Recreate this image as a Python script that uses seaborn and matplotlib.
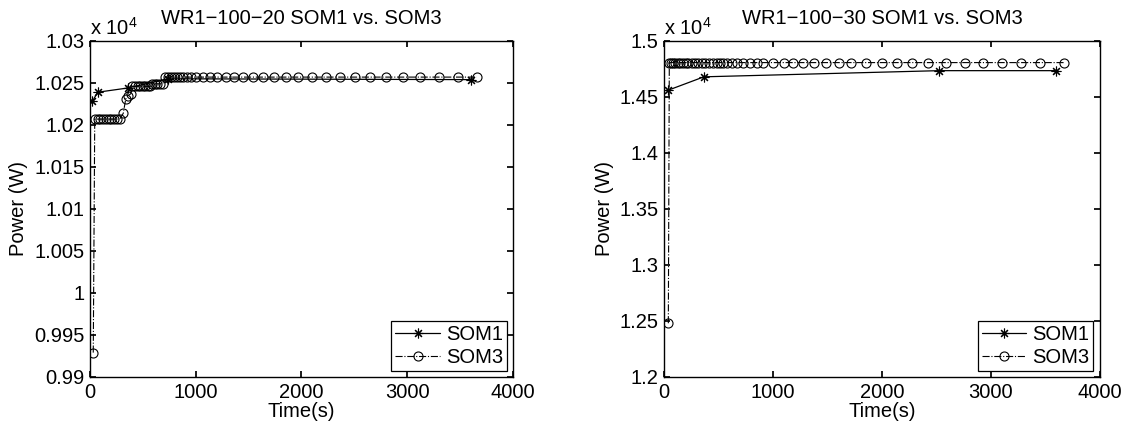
import numpy as np
import pandas as pd
import matplotlib
matplotlib.use("Agg")
import matplotlib.pyplot as plt
from matplotlib.ticker import FuncFormatter
import seaborn as sns

# --- Data (power in W, time in s) ---
som1_t_20 = [22, 73, 356, 741, 3603]
som1_p_20 = [10228, 10239, 10244, 10255, 10254]

som3_t_20 = [31, 45, 72, 98, 124, 150, 176, 202, 228, 254, 282, 315, 338, 358, 385,
             402, 426, 450, 474, 498, 522, 546, 568, 590, 614, 638, 662, 688,
             712, 736, 762, 790, 820, 850, 876, 914, 952, 1002, 1066, 1135, 1204,
             1283, 1365, 1450, 1544, 1639, 1743, 1853, 1970, 2096, 2229, 2364,
             2506, 2648, 2799, 2963, 3121, 3300, 3477, 3657]
som3_p_20 = [9929, 10207, 10207, 10207, 10207, 10207, 10207, 10207, 10207, 10207, 10207,
             10214, 10231, 10235, 10237,
             10246, 10246, 10246, 10246, 10246, 10246, 10246, 10246,
             10249, 10249, 10249, 10249, 10249,
             10257, 10257, 10257, 10257, 10257, 10257, 10257, 10257, 10257, 10257,
             10257, 10257, 10257, 10257, 10257, 10257, 10257, 10257, 10257, 10257,
             10257, 10257, 10257, 10257, 10257, 10257, 10257, 10257, 10257, 10257,
             10257, 10257]

som1_t_30 = [37, 364, 2525, 3600]
som1_p_30 = [14561, 14680, 14735, 14735]

som3_t_30 = [37, 46, 62, 80, 100, 122, 145, 170, 195, 222, 250, 280, 310, 342, 375,
             410, 445, 480, 510, 540, 573, 620, 671, 727, 789, 850, 910, 1002, 1100,
             1186, 1278, 1375, 1483, 1605, 1712, 1850, 1998, 2136, 2273, 2426, 2589,
             2764, 2932, 3101, 3278, 3453, 3674]
som3_p_30 = [12480] + [14807] * 46

yticks_20 = [0.99, 0.995, 1.0, 1.005, 1.01, 1.015, 1.02, 1.025, 1.03]
yticks_30 = [1.2, 1.25, 1.3, 1.35, 1.4, 1.45, 1.5]
xticks = [0, 1000, 2000, 3000, 4000]
SCALE = 1e4
FS = 14.5
ASTERISK = (8, 2, 0)

# --- Style (MATLAB-ish) ---
sns.set_theme(style="ticks")
plt.rcParams.update({
    "font.family": ["Liberation Sans", "DejaVu Sans"],
    "mathtext.fontset": "custom",
    "mathtext.rm": "Liberation Sans",
    "mathtext.it": "Liberation Sans",
    "font.size": FS,
    "axes.edgecolor": "black",
    "axes.linewidth": 1.0,
    "xtick.direction": "in",
    "ytick.direction": "in",
    "xtick.top": True,
    "ytick.right": True,
    "xtick.major.size": 4,
    "ytick.major.size": 4,
    "xtick.color": "black",
    "ytick.color": "black",
    "text.color": "black",
    "axes.labelcolor": "black",
})

fig = plt.figure(figsize=(11.29, 4.30), dpi=100)
ax_l = fig.add_axes([0.0797, 0.1233, 0.3747, 0.7814])
ax_r = fig.add_axes([0.5884, 0.1233, 0.3855, 0.7814])


def draw(ax, t1, p1, t3, p3, yticks, title):
    d1 = pd.DataFrame({"t": t1, "p": np.array(p1) / SCALE})
    d3 = pd.DataFrame({"t": t3, "p": np.array(p3) / SCALE})
    sns.lineplot(data=d1, x="t", y="p", ax=ax, color="black", linewidth=0.9,
                 marker=ASTERISK, markersize=7, markeredgecolor="black",
                 markeredgewidth=0.8, label="SOM1", estimator=None, sort=False)
    sns.lineplot(data=d3, x="t", y="p", ax=ax, color="black", linewidth=0.8,
                 linestyle="-.", marker="o", markersize=6.5,
                 markerfacecolor="none", markeredgecolor="black",
                 markeredgewidth=0.8, label="SOM3", estimator=None, sort=False)
    ax.set_xlim(0, 4000)
    ax.set_ylim(yticks[0], yticks[-1])
    ax.set_xticks(xticks)
    ax.set_yticks(yticks)
    ax.yaxis.set_major_formatter(FuncFormatter(lambda v, _: f"{v:g}"))
    ax.tick_params(labelsize=FS, pad=4)
    ax.set_xlabel("Time(s)", fontsize=FS, labelpad=0)
    ax.set_ylabel("Power (W)", fontsize=FS, labelpad=4)
    ax.set_title(title, fontsize=FS, pad=12)
    ax.text(0, 1.006, r"x 10$^{4}$", transform=ax.transAxes,
            ha="left", va="bottom", fontsize=FS)
    leg = ax.legend(loc="lower right", fontsize=FS, frameon=True, fancybox=False,
                    edgecolor="black", framealpha=1, borderaxespad=0.3,
                    handlelength=2.2, handletextpad=0.3, borderpad=0.2,
                    labelspacing=0.2)
    leg.get_frame().set_linewidth(0.9)
    for s in ax.spines.values():
        s.set_visible(True)


draw(ax_l, som1_t_20, som1_p_20, som3_t_20, som3_p_20, yticks_20,
     "WR1\u2212100\u221220 SOM1 vs. SOM3")
draw(ax_r, som1_t_30, som1_p_30, som3_t_30, som3_p_30, yticks_30,
     "WR1\u2212100\u221230 SOM1 vs. SOM3")

fig.savefig("out.png", dpi=100)
